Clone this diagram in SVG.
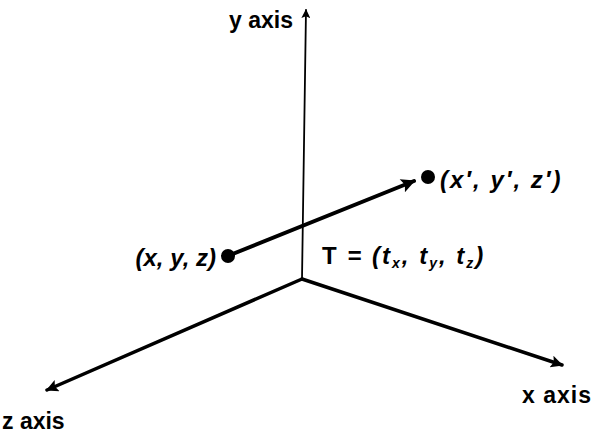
<svg xmlns="http://www.w3.org/2000/svg" width="599" height="435" viewBox="0 0 599 435">
<style>
.lbl{font-family:"Liberation Sans",Arial,sans-serif;font-weight:bold;font-size:23px;fill:#000}
.it{font-family:"Liberation Sans",Arial,sans-serif;font-weight:bold;font-style:italic;font-size:24px;fill:#000}
.ax{stroke:#000;fill:none;stroke-linecap:round}
</style>
<defs>
<marker id="ah" viewBox="0 0 10 10" refX="9" refY="5" markerWidth="5" markerHeight="3.5" orient="auto" markerUnits="strokeWidth">
<path d="M0,0 L10,5 L0,10 L2,5 Z" fill="#000"/>
</marker>
<marker id="ahy" viewBox="0 0 10 10" refX="9" refY="5" markerWidth="11" markerHeight="5" orient="auto" markerUnits="strokeWidth">
<path d="M0,0 L10,5 L0,10 L2,5 Z" fill="#000"/>
</marker>
</defs>
<rect width="599" height="435" fill="#fff"/>
<g id="connectors">
<line class="ax" x1="302" y1="279" x2="306" y2="10" stroke-width="1.8" marker-end="url(#ahy)"/>
<line class="ax" x1="302" y1="279" x2="47" y2="390" stroke-width="3.5" marker-end="url(#ah)"/>
<line class="ax" x1="302" y1="279" x2="562" y2="365" stroke-width="3.5" marker-end="url(#ah)"/>
<line class="ax" x1="230" y1="255" x2="414" y2="181" stroke-width="4" marker-end="url(#ah)"/>
</g>
<g id="y-axis-label"><text class="lbl" x="293" y="28" font-size="22" text-anchor="end">y axis</text></g>
<g id="z-axis-label"><text class="lbl" x="2" y="429">z axis</text></g>
<g id="x-axis-label"><text class="lbl" x="522" y="403" letter-spacing="1">x axis</text></g>
<g id="point-p">
<circle cx="228" cy="256" r="7"/>
<text class="it" x="216" y="266" font-size="23" text-anchor="end">(x, y, z)</text>
</g>
<g id="point-p-prime">
<circle cx="428" cy="177" r="7"/>
<text class="it" x="440" y="188" letter-spacing="2">(x′, y′, z′)</text>
</g>
<g id="translation-label">
<text class="it" x="322" y="264" letter-spacing="2"><tspan font-style="normal">T</tspan> = (t<tspan font-size="14" dy="4">x</tspan><tspan dy="-4">, t</tspan><tspan font-size="14" dy="4">y</tspan><tspan dy="-4">, t</tspan><tspan font-size="14" dy="4">z</tspan><tspan dy="-4">)</tspan></text>
</g>
</svg>
